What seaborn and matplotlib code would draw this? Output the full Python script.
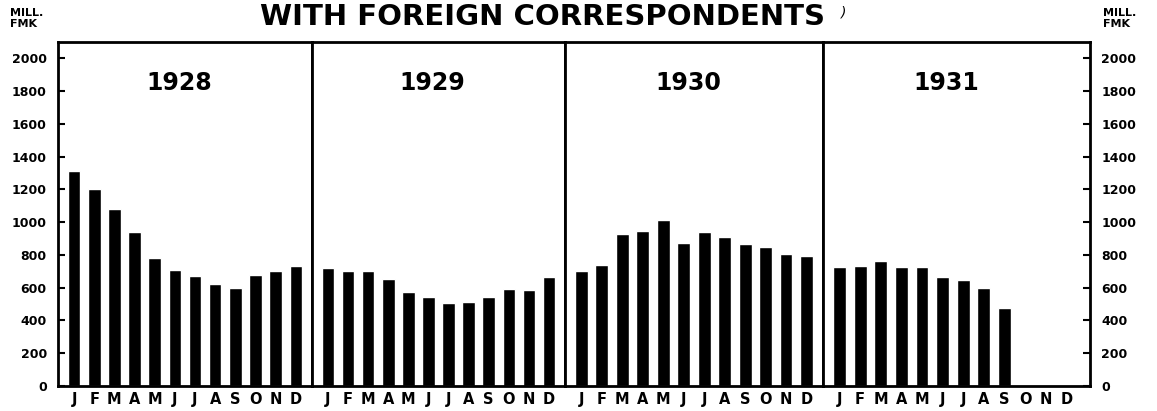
import numpy as np
import pandas as pd
import seaborn as sns
import matplotlib.pyplot as plt

months = ['J', 'F', 'M', 'A', 'M', 'J', 'J', 'A', 'S', 'O', 'N', 'D']
years = ['1928', '1929', '1930', '1931']
v1928 = [1310, 1200, 1080, 940, 780, 710, 670, 620, 600, 680, 700, 730]
v1929 = [720, 700, 700, 655, 575, 545, 505, 515, 545, 595, 585, 665]
v1930 = [700, 740, 925, 945, 1015, 875, 940, 910, 865, 850, 805, 795]
v1931 = [725, 735, 760, 725, 725, 665, 650, 600, 475]
yticks = [0, 200, 400, 600, 800, 1000, 1200, 1400, 1600, 1800, 2000]

sns.set_style('white')
plt.rcParams['font.family'] = ['DejaVu Sans']
plt.rcParams['text.color'] = 'black'
plt.rcParams['xtick.color'] = 'black'
plt.rcParams['ytick.color'] = 'black'

fig, axes = plt.subplots(1, 4, figsize=(11.57, 4.11), dpi=100, sharey=True,
                         gridspec_kw=dict(width_ratios=[254, 253, 258, 267]))
fig.subplots_adjust(left=0.0501, right=0.9421, bottom=0.0608, top=0.898, wspace=0)

for ax, year, vals in zip(axes, years, [v1928, v1929, v1930, v1931]):
    df = pd.DataFrame({'m': list(range(len(vals))), 'v': vals})
    sns.barplot(data=df, x='m', y='v', order=list(range(12)), color='black',
                saturation=1, width=0.62, ax=ax)
    ax.set_xlim(-0.8, 11.8)
    ax.set_ylim(0, 2100)
    ax.set_xlabel('')
    ax.set_ylabel('')
    ax.set_xticks(range(12))
    ax.set_xticklabels(months, fontsize=10.5, fontweight='bold')
    ax.tick_params(axis='x', length=0, pad=4)
    ax.tick_params(axis='y', left=False, right=False, labelleft=False, labelright=False)
    for s in ax.spines.values():
        s.set_visible(True)
        s.set_color('black')
        s.set_linewidth(2)
    ax.text(5.2, 1850, year, ha='center', va='center', fontsize=17, fontweight='bold')

axes[3].set_xlim(-0.8, 12.15)
axes[0].set_yticks(yticks)
axes[0].tick_params(axis='y', left=True, labelleft=True, direction='in', length=5,
                    width=1.5, pad=8, labelsize=9)
axes[3].tick_params(axis='y', right=True, labelright=True, direction='in', length=5,
                    width=1.5, pad=8, labelsize=9)
for ax in (axes[0], axes[3]):
    for lab in ax.get_yticklabels():
        lab.set_fontweight('bold')

fig.text(0.225, 1 - 25 / 411, 'WITH FOREIGN CORRESPONDENTS', ha='left', va='baseline',
         fontsize=21, fontweight='bold')
fig.text(0.727, 1 - 16 / 411, ')', ha='left', va='baseline', fontsize=10, fontstyle='italic')
fig.text(0.009, 1 - 8 / 411, 'MILL.\nFMK', ha='left', va='top', fontsize=8,
         fontweight='bold', linespacing=1.1)
fig.text(0.953, 1 - 8 / 411, 'MILL.\nFMK', ha='left', va='top', fontsize=8,
         fontweight='bold', linespacing=1.1)

plt.savefig('out.png', dpi=100)
